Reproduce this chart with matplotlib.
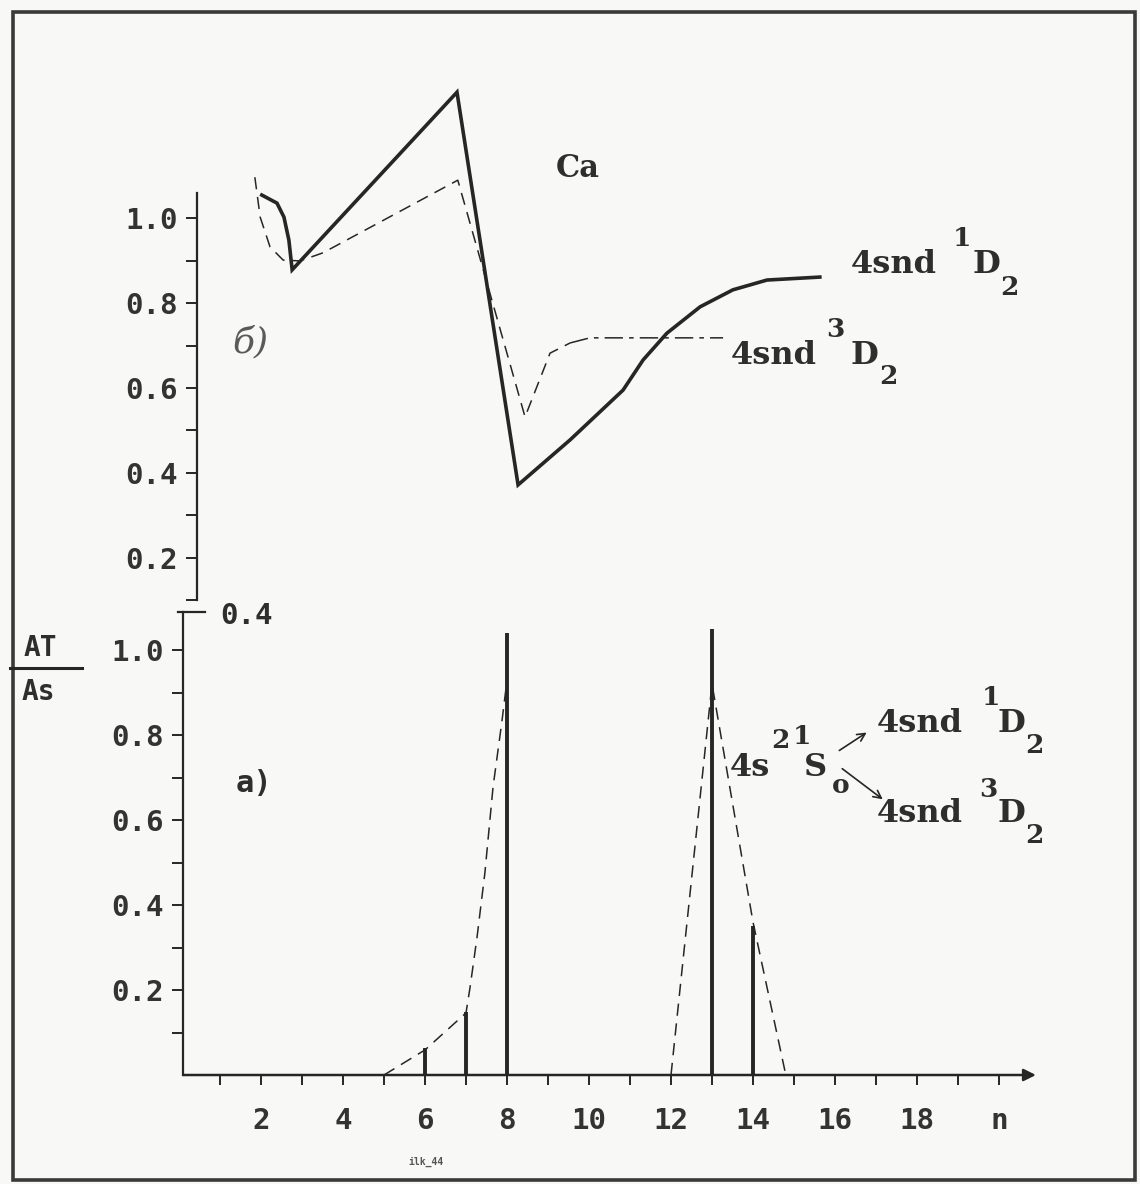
import matplotlib.pyplot as plt
from matplotlib.patches import Rectangle, FancyArrowPatch
from matplotlib.lines import Line2D

# panel б): A_T/A_S against n for the two Rydberg series of Ca
n_sing = [2.02, 2.39, 2.56, 2.68, 2.76, 6.78, 8.27, 9.54, 10.83, 11.32,
          11.9, 12.71, 13.51, 14.34, 15.63]
r_sing = [1.054, 1.035, 1.002, 0.948, 0.878, 1.296, 0.372, 0.478, 0.595,
          0.666, 0.729, 0.791, 0.831, 0.854, 0.861]

n_trip = [1.85, 1.98, 2.22, 2.54, 2.95, 3.51, 6.80, 8.44, 9.05, 9.54, 10.02, 13.27]
r_trip = [1.096, 1.002, 0.932, 0.901, 0.899, 0.918, 1.089, 0.532, 0.682,
          0.706, 0.718, 0.718]
flat_from = 10  # index where the triplet curve turns dash-dot

# panel a): 4s2 1S0 -> 4snd transitions
bar_n = [6, 7, 8, 13, 14]
bar_r = [0.064, 0.148, 1.04, 1.05, 0.35]
env1_n = [5.0, 6.0, 7.0, 7.1, 7.27, 7.46, 7.66, 7.88, 8.0]
env1_r = [0.0, 0.059, 0.146, 0.207, 0.325, 0.475, 0.678, 0.835, 0.929]
env2_n = [12.0, 13.0, 14.0, 14.8]
env2_r = [0.0, 0.92, 0.36, 0.0]

x_ticks = list(range(1, 21))
x_labels = ["n" if k == 20 else (str(k) if k % 2 == 0 else "") for k in x_ticks]
y_ticks = [0.2, 0.4, 0.6, 0.8, 1.0]
y_labels = ["0.2", "0.4", "0.6", "0.8", "1.0"]
y_minor = [0.1, 0.3, 0.5, 0.7, 0.9]

INK = "#262626"
BG = "#f8f8f6"
MONO = "DejaVu Sans Mono"
SERIF = "DejaVu Serif"

W, H = 1140, 1184
fig = plt.figure(figsize=(W / 100, H / 100), dpi=100, facecolor=BG)


def fx(px):
    return px / W


def fy(py):
    return 1 - py / H


PX_N = 41.0     # pixels per unit of n
PX_R = 425.0    # pixels per unit of ratio
X0 = 179        # pixel of n = 0
NMAX = 21

# bottom panel
b_top = 1.09
ax_b = fig.add_axes([fx(X0), fy(1075), NMAX * PX_N / W, b_top * PX_R / H])
ax_b.set_xlim(0, NMAX)
ax_b.set_ylim(0, b_top)

# top panel
t_lo, t_hi = 0.09, 1.32
ax_t = fig.add_axes([fx(X0), fy(643 - t_lo * PX_R), NMAX * PX_N / W,
                     (t_hi - t_lo) * PX_R / H])
ax_t.set_xlim(0, NMAX)
ax_t.set_ylim(t_lo, t_hi)

# spine positions first: moving a spine resets its ticks
ax_t.spines["left"].set_position(("data", 0.44))
ax_t.spines["left"].set_bounds(0.1, 1.06)
ax_b.spines["left"].set_position(("data", 0.1))
ax_b.spines["left"].set_bounds(0, b_top)

for ax in (ax_t, ax_b):
    ax.set_facecolor("none")
    for s in ("top", "right", "bottom"):
        ax.spines[s].set_visible(False)
    ax.spines["left"].set_color(INK)
    ax.spines["left"].set_linewidth(1.6)
    ax.set_yticks(y_ticks)
    ax.set_yticks(y_minor, minor=True)
    ax.set_yticklabels(y_labels, fontfamily=MONO, fontweight="bold",
                       fontsize=21, color="#333333")
    ax.tick_params(axis="y", which="both", direction="out", length=8,
                   width=1.4, color=INK, pad=6)

ax_t.set_xticks([])

ax_b.set_xticks(x_ticks)
ax_b.set_xticklabels(x_labels, fontfamily=MONO, fontweight="bold",
                     fontsize=21, color="#333333")
ax_b.tick_params(axis="x", direction="out", length=7, width=1.4,
                 color=INK, pad=16)
ax_b.annotate("", xy=(NMAX - 0.1, 0), xytext=(0.1, 0),
              arrowprops=dict(arrowstyle="-|>", color=INK, lw=1.8,
                              mutation_scale=18, shrinkA=0, shrinkB=0),
              annotation_clip=False)
# break mark between the panels
ax_b.plot([-0.03, 0.63], [b_top, b_top], color=INK, lw=1.6, clip_on=False)

# curves of panel б)
ax_t.plot(n_sing, r_sing, color=INK, lw=2.6, solid_joinstyle="miter")
ax_t.plot(n_trip[:flat_from], r_trip[:flat_from], color=INK, lw=1.1,
          dashes=(8, 5))
ax_t.plot(n_trip[flat_from - 1:], r_trip[flat_from - 1:], color=INK, lw=1.1,
          dashes=(12, 4, 3, 4))

# lines and envelopes of panel a)
ax_b.vlines(bar_n, 0, bar_r, color=INK, lw=2.8)
ax_b.plot(env1_n, env1_r, color=INK, lw=1.1, dashes=(8, 5))
ax_b.plot(env2_n, env2_r, color=INK, lw=1.1, dashes=(8, 5))


def put(px, py, s, size=23, family=SERIF, **kw):
    kw.setdefault("fontweight", "bold")
    kw.setdefault("color", "#2e2e2e")
    fig.text(fx(px), fy(py), s, fontsize=size, fontfamily=family,
             ha="left", va="baseline", **kw)


def term(x4, base, sup, x_sup, x_d, x_sub, dy_sup=27, dy_sub=22):
    put(x4, base, "4snd")
    put(x_sup, base - dy_sup, sup, size=19)
    put(x_d, base, "D")
    put(x_sub, base + dy_sub, "2", size=19)


put(556, 177, "Ca", size=22)
term(851, 273, "1", 953, 973, 1000)
term(731, 364, "3", 826, 851, 879, dy_sup=27, dy_sub=20)

put(730, 776, "4s", size=23)
put(771, 748, "2", size=19)
put(793, 744, "1", size=19)
put(804, 776, "S", size=23)
put(832, 793, "o", size=19)
term(877, 732, "1", 982, 998, 1025, dy_sub=21)
term(877, 822, "3", 979, 998, 1025, dy_sup=25, dy_sub=21)

for (xa, ya), (xb, yb) in [((837, 752), (869, 731)), ((840, 767), (885, 801))]:
    fig.add_artist(FancyArrowPatch(
        (fx(xa), fy(ya)), (fx(xb), fy(yb)), transform=fig.transFigure,
        arrowstyle="->", mutation_scale=14, lw=1.2, color=INK))

put(236, 792, "a)", size=22, family=MONO)
put(232, 352, "б)", size=26, fontweight="normal",
    fontstyle="italic", color="#5a5a5a")
put(220, 624, "0.4", size=21, family=MONO)

# y label as a fraction
put(24, 656, "AT", size=20, family=MONO)
put(22, 700, "As", size=20, family=MONO)
fig.add_artist(Line2D([fx(10), fx(82)], [fy(668), fy(668)], color=INK, lw=2.2))

put(408, 1165, "ilk_44", size=7, family=MONO, color="#555555")

# scanned frame
fig.add_artist(Rectangle((fx(13), fy(1180)), fx(1135) - fx(13), fy(12) - fy(1180),
                         transform=fig.transFigure, fill=False, lw=2.6,
                         edgecolor="#3a3a3a"))

fig.savefig("out.png", dpi=100, facecolor=BG)
